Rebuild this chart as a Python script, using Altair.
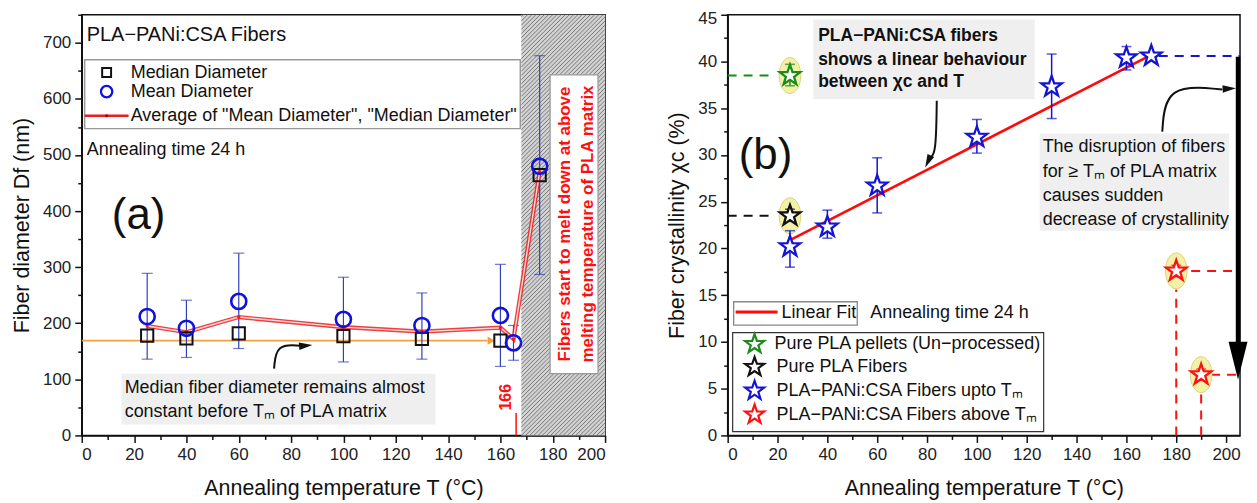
import altair as alt
import numpy as np
import pandas as pd

FONT = "Liberation Sans"

# ---------------- panel (a) values ----------------
med_T = [25, 40, 60, 100, 130, 160, 175]
med_D = [178, 173, 182, 177, 172, 169, 464]
mean_T = [25, 40, 60, 100, 130, 160, 165, 175]
mean_D = [212, 191, 239, 207, 196, 214, 165, 480]
mean_lo = [136, 139, 155, 131, 136, 123, 134, 287]
mean_hi = [289, 241, 325, 282, 254, 305, 196, 677]
avg_T = [25, 40, 60, 100, 130, 160, 165, 175]
avg_D = [195, 184, 211, 193, 185, 192, 172, 470]
melt_T = [168, 200]
tm_T = 166
median_level = 169

# ---------------- panel (b) values ----------------
pellet_T, pellet_X, pellet_lo, pellet_hi = [25], [38.5], [37.4], [39.7]
fiber_T, fiber_X, fiber_lo, fiber_hi = [25], [23.5], [22.9], [24.2]
blue_T = [25, 40, 60, 100, 130, 160, 170]
blue_X = [20.2, 22.3, 26.7, 31.9, 37.3, 40.4, 40.6]
blue_eT = [25, 40, 60, 100, 130, 160]
blue_lo = [18.0, 21.1, 23.8, 30.2, 33.9, 39.1]
blue_hi = [21.9, 24.1, 29.7, 33.8, 40.8, 41.6]
red_T, red_X, red_lo, red_hi = [180, 190], [17.6, 6.5], [17.0, 5.9], [18.2, 7.1]
fit_T, fit_X = [25, 170], [20.9, 40.7]

GREEN, BLACK, BLUE, RED = "#1a8c1a", "#111111", "#1414d2", "#ff1010"
STAR = ("M0,-1L0.235,-0.324L0.951,-0.309L0.38,0.124L0.588,0.809L0,0.4"
        "L-0.588,0.809L-0.38,0.124L-0.951,-0.309L-0.235,-0.324Z")
ELLIPSE = "M-0.6,0A0.6,1 0 1,0 0.6,0A0.6,1 0 1,0 -0.6,0Z"
HEAD = "M-1,-0.55L1,0L-1,0.55Z"
DOWN = "M-0.5,-1L0.5,-1L0,1Z"

WA, HA = 525, 422
WB, HB = 514, 422
XB_MAX = 205.6


def tick_cond(step, big=7, small=4):
    return {"condition": {"test": f"datum.value % {step} === 0", "value": big}, "value": small}


AX_A_X = alt.Axis(values=list(range(0, 201, 10)),
                  labelExpr="datum.value % 20 === 0 ? datum.label : ''",
                  tickSize=tick_cond(20), labelPadding=4, titlePadding=15,
                  title="Annealing temperature T (°C)")
AX_A_Y = alt.Axis(values=list(range(0, 751, 50)),
                  labelExpr="datum.value % 100 === 0 ? datum.label : ''",
                  tickSize=tick_cond(100), labelPadding=4, titlePadding=9,
                  title="Fiber diameter Df (nm)")
AX_B_X = alt.Axis(values=list(range(0, 201, 10)),
                  labelExpr="datum.value % 20 === 0 ? datum.label : ''",
                  tickSize=tick_cond(20), labelPadding=4, titlePadding=15,
                  title="Annealing temperature T (°C)")
AX_B_Y = alt.Axis(values=[v * 2.5 for v in range(0, 19)],
                  labelExpr="datum.value % 5 === 0 ? datum.label : ''",
                  labelOffset={"condition": {"test": "datum.value === 45", "value": 4}, "value": 0},
                  tickSize=tick_cond(5), labelPadding=4, titlePadding=9,
                  title="Fiber crystallinity χc (%)")

SXA = alt.Scale(domain=[0, 200], nice=False, zero=False)
SYA = alt.Scale(domain=[0, 750], nice=False, zero=False)
SXB = alt.Scale(domain=[0, XB_MAX], nice=False, zero=False)
SYB = alt.Scale(domain=[0, 45], nice=False, zero=False)


def ea(**kw):
    d = dict(x=alt.X("x:Q", scale=SXA, axis=AX_A_X), y=alt.Y("y:Q", scale=SYA, axis=AX_A_Y))
    d.update(kw)
    return d


def eb(**kw):
    d = dict(x=alt.X("x:Q", scale=SXB, axis=AX_B_X), y=alt.Y("y:Q", scale=SYB, axis=AX_B_Y))
    d.update(kw)
    return d


def df(**cols):
    return pd.DataFrame(cols)


def text_layer(enc, rows, **mk):
    base = dict(align="left", baseline="middle", font=FONT, fontSize=18, color="#111")
    base.update(mk)
    return alt.Chart(pd.DataFrame(rows)).mark_text(**base).encode(**enc(text=alt.Text("t:N")))


# ======================= panel (a) =======================
la = []
# melting zone (hatched)
la.append(alt.Chart(df(x=[melt_T[0]], x2=[melt_T[1]], y=[0], y2=[750])).mark_rect(
    fill="#d2d2d2", stroke=None).encode(**ea(x2="x2:Q", y2="y2:Q")))
sx, sy = WA / 200.0, HA / 750.0
wpx = (melt_T[1] - melt_T[0]) * sx
hatch = []
for k in np.arange(-wpx, HA, 4.2):
    u0, u1 = max(0.0, -k), min(wpx, HA - k)
    if u1 <= u0:
        continue
    hatch.append(dict(x=melt_T[0] + u0 / sx, y=(u0 + k) / sy,
                      x2=melt_T[0] + u1 / sx, y2=(u1 + k) / sy))
la.append(alt.Chart(pd.DataFrame(hatch)).mark_rule(color="#5a5a5a", strokeWidth=0.75).encode(
    **ea(x2="x2:Q", y2="y2:Q")))

# legend frame, annotation boxes
la.append(alt.Chart(df(x=[1.1], x2=[167.6], y=[670], y2=[547])).mark_rect(
    fill="white", stroke="#999", strokeWidth=1.5).encode(**ea(x2="x2:Q", y2="y2:Q")))
la.append(alt.Chart(df(x=[15.2], x2=[135.2], y=[110], y2=[19.5])).mark_rect(
    fill="#efefef", stroke=None).encode(**ea(x2="x2:Q", y2="y2:Q")))
la.append(alt.Chart(df(x=[179.0], x2=[197.3], y=[643], y2=[110])).mark_rect(
    fill="white", stroke="#999", strokeWidth=1.2).encode(**ea(x2="x2:Q", y2="y2:Q")))

# orange median level arrow
la.append(alt.Chart(df(x=[0], x2=[155], y=[median_level])).mark_rule(
    color="#f5a040", strokeWidth=1.6).encode(**ea(x2="x2:Q")))
la.append(alt.Chart(df(x=[156.5], y=[median_level])).mark_point(
    shape="triangle-right", size=70, filled=True, color="#f5a040", opacity=1).encode(**ea()))

# Tm marker
la.append(alt.Chart(df(x=[tm_T], y=[0], y2=[40])).mark_rule(color=RED, strokeWidth=1.5).encode(
    **ea(y2="y2:Q")))

# error bars of mean diameter
err_a = df(x=mean_T, y=mean_lo, y2=mean_hi)
la.append(alt.Chart(err_a).mark_rule(color="#3040b8", strokeWidth=1.2).encode(**ea(y2="y2:Q")))
caps_a = pd.concat([df(x=mean_T, y=mean_lo), df(x=mean_T, y=mean_hi)])
la.append(alt.Chart(caps_a).mark_tick(color="#3040b8", thickness=1.2, size=11,
                                      orient="horizontal").encode(**ea()))

# average line
avg = df(x=avg_T, y=avg_D)
la.append(alt.Chart(avg).mark_line(color="#e82020", strokeWidth=4.2, opacity=0.85).encode(**ea()))
la.append(alt.Chart(avg).mark_line(color="#ffd6d6", strokeWidth=1.4).encode(**ea()))
la.append(alt.Chart(avg).mark_point(color="#e82020", filled=True, size=12, opacity=1).encode(**ea()))

# symbols
la.append(alt.Chart(df(x=med_T, y=med_D)).mark_point(
    shape="square", size=150, filled=False, color="#111", strokeWidth=2, opacity=1).encode(**ea()))
la.append(alt.Chart(df(x=mean_T, y=mean_D)).mark_point(
    shape="circle", size=230, filled=False, color="#1010e0", strokeWidth=2.6, opacity=1).encode(**ea()))

# legend entries
la.append(alt.Chart(df(x=[9.5], y=[647])).mark_point(
    shape="square", size=80, filled=False, color="#111", strokeWidth=2, opacity=1).encode(**ea()))
la.append(alt.Chart(df(x=[9.5], y=[613])).mark_point(
    shape="circle", size=130, filled=False, color="#1010e0", strokeWidth=2.3, opacity=1).encode(**ea()))
la.append(alt.Chart(df(x=[1.1], x2=[17.9], y=[570])).mark_rule(
    color="#e82020", strokeWidth=2.5).encode(**ea(x2="x2:Q")))
la.append(alt.Chart(df(x=[9.5], y=[570])).mark_point(
    color="#b00000", filled=True, size=10, opacity=1).encode(**ea()))
la.append(text_layer(ea, [
    dict(x=18.7, y=647, t="Median Diameter"),
    dict(x=18.7, y=613, t="Mean Diameter"),
    dict(x=18.7, y=570, t='Average of "Mean Diameter", "Median Diameter"'),
    dict(x=1.9, y=508, t="Annealing time 24 h"),
    dict(x=16.4, y=84, t="Median fiber diameter remains almost"),
    dict(x=16.4, y=41, t="constant before Tₘ of PLA matrix"),
]))
la.append(text_layer(ea, [dict(x=1.9, y=714, t="PLA−PANi:CSA Fibers")], fontSize=20))
la.append(text_layer(ea, [dict(x=11.5, y=391, t="(a)")], fontSize=44))
la.append(text_layer(ea, [dict(x=184.6, y=377, t="Fibers start to melt down at above"),
                          dict(x=193.4, y=377, t="melting temperature of PLA matrix")],
                     align="center", angle=270, fontSize=17, fontWeight="bold", color=RED))
la.append(text_layer(ea, [dict(x=162.0, y=68, t="166")],
                     align="center", angle=270, fontSize=16, fontWeight="bold", color=RED))

# curved arrow (a)
la.append(alt.Chart(df(x=[73.5, 74.3, 83.5], y=[119, 163, 160], i=[0, 1, 2])).mark_line(
    interpolate="basis", color="#111", strokeWidth=2).encode(**ea(order="i:Q")))
la.append(alt.Chart(df(x=[85.6], y=[160], a=[355])).mark_point(
    shape=HEAD, size=180, filled=True, color="#111", opacity=1).encode(
    **ea(angle=alt.Angle("a:Q", scale=None))))

left = alt.layer(*la).properties(width=WA, height=HA)

# ======================= panel (b) =======================
lb = []
# annotation boxes
lb.append(alt.Chart(df(x=[34.4, 125.2], x2=[123.2, 201.2], y=[44.5, 32.3], y2=[36.0, 21.9])).mark_rect(
    fill="#efefef", stroke=None).encode(**eb(x2="x2:Q", y2="y2:Q")))
# legend boxes
lb.append(alt.Chart(df(x=[2.4], x2=[52.0], y=[14.3], y2=[11.8])).mark_rect(
    fill="white", stroke="#888", strokeWidth=1.3).encode(**eb(x2="x2:Q", y2="y2:Q")))
lb.append(alt.Chart(df(x=[2.0], x2=[126.8], y=[11.0], y2=[0.4])).mark_rect(
    fill="white", stroke="#333", strokeWidth=1.2).encode(**eb(x2="x2:Q", y2="y2:Q")))

# dashed guide lines
dash = df(x=[0, 0, 173, 186, 180, 194, 190],
          x2=[19, 19, XB_MAX, XB_MAX, 180, XB_MAX, 190],
          y=[38.5, 23.5, 40.6, 17.6, 0, 6.5, 0],
          y2=[38.5, 23.5, 40.6, 17.6, 15.6, 6.5, 4.8],
          c=[GREEN, BLACK, BLUE, RED, RED, RED, RED])
lb.append(alt.Chart(dash).mark_rule(strokeWidth=2, strokeDash=[9, 7]).encode(
    **eb(x2="x2:Q", y2="y2:Q", color=alt.Color("c:N", scale=None))))

# highlight ellipses
ell = df(x=pellet_T + fiber_T + red_T, y=pellet_X + fiber_X + red_X)
lb.append(alt.Chart(ell).mark_point(shape=ELLIPSE, size=1300, filled=True, fill="#f3f0a8",
                                    stroke="#d9d27a", strokeWidth=1, opacity=1).encode(**eb()))

# linear fit
lb.append(alt.Chart(df(x=fit_T, y=fit_X)).mark_line(color="#ff0a0a", strokeWidth=2.6).encode(**eb()))

# error bars
eT = pellet_T + fiber_T + blue_eT + red_T
elo = pellet_lo + fiber_lo + blue_lo + red_lo
ehi = pellet_hi + fiber_hi + blue_hi + red_hi
ec = [GREEN] + [BLACK] + [BLUE] * len(blue_eT) + [RED] * len(red_T)
lb.append(alt.Chart(df(x=eT, y=elo, y2=ehi, c=ec)).mark_rule(strokeWidth=1.5).encode(
    **eb(y2="y2:Q", color=alt.Color("c:N", scale=None))))
caps_b = pd.concat([df(x=eT, y=elo, c=ec), df(x=eT, y=ehi, c=ec)])
lb.append(alt.Chart(caps_b).mark_tick(thickness=1.5, size=10, orient="horizontal").encode(
    **eb(color=alt.Color("c:N", scale=None))))

# stars
stars = df(x=pellet_T + fiber_T + blue_T + red_T, y=pellet_X + fiber_X + blue_X + red_X,
           c=[GREEN, BLACK] + [BLUE] * len(blue_T) + [RED] * len(red_T))
lb.append(alt.Chart(stars).mark_point(shape=STAR, size=470, filled=True, fill="white",
                                      strokeWidth=2.3, opacity=1, fillOpacity=1).encode(
    **eb(stroke=alt.Stroke("c:N", scale=None))))

# thick black arrow
lb.append(alt.Chart(df(x=[204.8], y=[40.5], y2=[9.0])).mark_rule(color="#000", strokeWidth=4.5).encode(
    **eb(y2="y2:Q")))
lb.append(alt.Chart(df(x=[204.8], y=[8.0])).mark_point(shape=DOWN, size=1440, filled=True,
                                                     color="#000", opacity=1).encode(**eb()))

# curved arrows
lb.append(alt.Chart(df(x=[83.9, 83.6, 81.0], y=[35.8, 30.0, 29.7], i=[0, 1, 2])).mark_line(
    interpolate="basis", color="#111", strokeWidth=2).encode(**eb(order="i:Q")))
lb.append(alt.Chart(df(x=[174.4, 175.8, 198.5], y=[32.5, 37.6, 37.0], i=[0, 1, 2])).mark_line(
    interpolate="basis", color="#111", strokeWidth=2).encode(**eb(order="i:Q")))
lb.append(alt.Chart(df(x=[80.4, 201.3], y=[29.3, 37.1], a=[115, 357])).mark_point(
    shape=HEAD, size=180, filled=True, color="#111", opacity=1).encode(
    **eb(angle=alt.Angle("a:Q", scale=None))))

# legend symbols
lb.append(alt.Chart(df(x=[3.2], x2=[20.0], y=[13.2])).mark_rule(color="#ff0a0a", strokeWidth=3).encode(
    **eb(x2="x2:Q")))
leg_st = df(x=[10.8] * 4, y=[9.77, 7.32, 4.78, 2.23], c=[GREEN, BLACK, BLUE, RED])
lb.append(alt.Chart(leg_st).mark_point(shape=STAR, size=400, filled=True, fill="white",
                                       strokeWidth=2.2, opacity=1).encode(
    **eb(stroke=alt.Stroke("c:N", scale=None))))

lb.append(text_layer(eb, [
    dict(x=21.6, y=13.1, t="Linear Fit"),
    dict(x=57.2, y=13.1, t="Annealing time 24 h"),
    dict(x=18.8, y=9.77, t="Pure PLA pellets (Un−processed)"),
    dict(x=19.6, y=7.32, t="Pure PLA Fibers"),
    dict(x=19.6, y=4.78, t="PLA−PANi:CSA Fibers upto Tₘ"),
    dict(x=19.6, y=2.23, t="PLA−PANi:CSA Fibers above Tₘ"),
    dict(x=126.4, y=30.8, t="The disruption of fibers"),
    dict(x=126.4, y=28.2, t="for ≥ Tₘ of PLA matrix"),
    dict(x=126.4, y=25.6, t="causes sudden"),
    dict(x=126.4, y=23.0, t="decrease of crystallinity"),
]))
lb.append(text_layer(eb, [
    dict(x=36.3, y=42.7, t="PLA−PANi:CSA fibers"),
    dict(x=36.3, y=40.2, t="shows a linear behaviour"),
    dict(x=36.3, y=37.8, t="between χc and T"),
], fontSize=17.5, fontWeight="bold"))
lb.append(text_layer(eb, [dict(x=4.4, y=29.9, t="(b)")], fontSize=44))

right = alt.layer(*lb).properties(width=WB, height=HB)

chart = alt.hconcat(left, right, spacing=59).properties(
    padding={"left": 2, "top": 0, "right": 0, "bottom": 0}
).configure_view(stroke="#111", strokeWidth=1.5).configure_axis(
    labelFont=FONT, labelFontSize=17, labelColor="#222", titleFont=FONT, titleFontSize=21.5,
    titleFontWeight="normal", titleColor="#111", domainColor="#111", domainWidth=1.5,
    tickColor="#111", tickWidth=1.5, grid=False
)

chart.save("out.html", embed_options={"renderer": "svg", "actions": False})
